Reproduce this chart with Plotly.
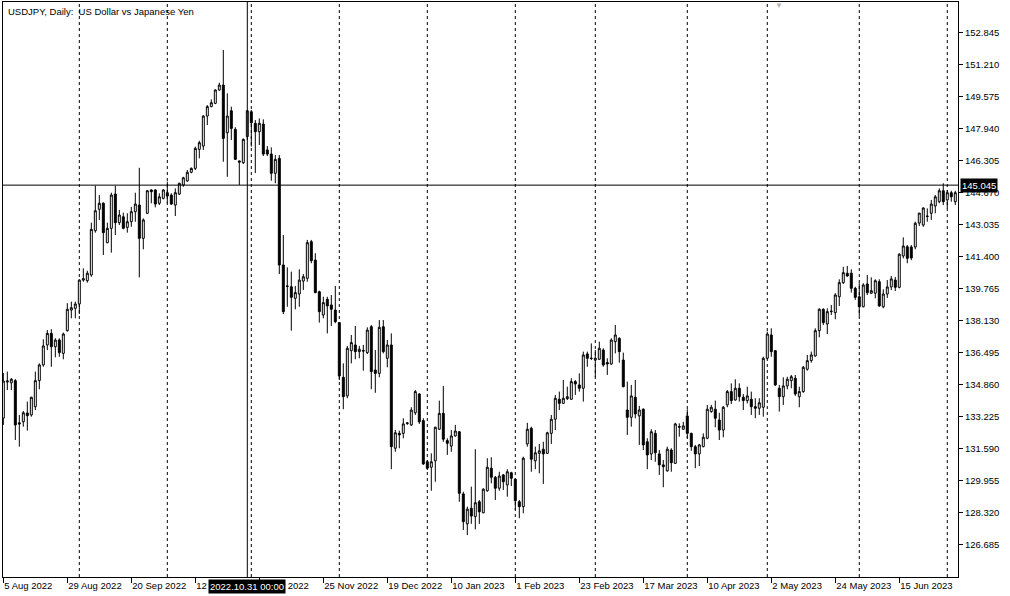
import pandas as pd
import plotly.graph_objects as go

# ---- data ----
dates = [d.strftime("%Y-%m-%d") for d in pd.bdate_range("2022-08-05", "2023-07-05")]

opens = [
    133.16, 135.00, 134.96, 135.07, 132.92, 132.97, 133.42, 133.32, 133.74, 135.07,
    135.87, 136.89, 137.48, 136.80, 137.14, 136.46, 137.62, 138.67, 138.76, 138.98,
    140.20, 140.17, 140.46, 142.72, 143.81, 144.12, 142.11, 142.84, 144.59, 143.13,
    143.43, 142.89, 143.18, 143.69, 144.03, 142.33, 143.61, 144.80, 144.80, 144.12,
    144.37, 144.66, 144.54, 144.03, 144.59, 145.05, 145.26, 145.70, 145.90, 146.87,
    147.04, 148.57, 149.05, 149.22, 149.90, 150.15, 147.72, 148.84, 147.89, 146.28,
    146.19, 147.52, 148.79, 148.20, 147.77, 148.16, 146.84, 146.63, 145.65, 146.41,
    140.97, 139.87, 139.86, 139.27, 139.49, 140.15, 140.29, 142.16, 141.22, 139.61,
    138.42, 139.22, 138.93, 138.67, 138.03, 135.24, 134.29, 136.60, 136.89, 136.55,
    136.61, 136.50, 137.82, 135.61, 135.44, 137.82, 136.21, 136.89, 131.62, 132.38,
    132.38, 132.88, 132.81, 133.43, 134.39, 133.03, 130.93, 130.65, 130.98, 132.59,
    133.40, 132.01, 131.73, 132.25, 132.46, 129.29, 127.76, 128.56, 128.13, 128.89,
    128.33, 129.45, 130.60, 130.14, 129.58, 130.26, 129.75, 130.37, 130.04, 128.89,
    128.64, 131.84, 132.64, 130.98, 131.36, 131.57, 131.36, 132.38, 133.10, 134.12,
    133.91, 134.15, 134.12, 135.02, 134.85, 134.68, 136.43, 136.22, 136.12, 136.16,
    136.63, 135.99, 135.92, 137.06, 137.23, 136.12, 133.57, 133.20, 134.22, 133.27,
    133.61, 131.95, 131.33, 132.38, 131.33, 130.77, 130.47, 131.53, 130.85, 132.73,
    132.59, 133.27, 132.38, 131.70, 131.33, 131.70, 132.13, 133.49, 133.61, 133.06,
    132.55, 133.83, 134.51, 134.08, 134.68, 134.22, 134.05, 134.12, 133.74, 133.66,
    133.71, 136.21, 137.40, 136.60, 134.68, 134.25, 134.80, 135.07, 135.19, 134.25,
    134.51, 135.65, 136.09, 136.33, 137.62, 138.71, 137.96, 138.59, 138.54, 139.35,
    140.07, 140.55, 140.55, 139.78, 139.35, 138.84, 140.00, 139.53, 139.53, 140.12,
    138.84, 139.49, 139.85, 140.20, 139.83, 141.43, 141.90, 141.89, 141.89, 143.11,
    143.01, 143.47, 143.61, 143.98, 144.20, 144.76, 144.29, 144.66, 144.20,
]
highs = [
    135.46, 135.53, 135.20, 135.15, 133.32, 133.52, 134.00, 134.25, 135.53, 135.95,
    137.18, 137.65, 137.69, 137.23, 137.23, 137.52, 139.02, 139.10, 139.10, 140.24,
    140.80, 140.68, 143.13, 145.02, 144.54, 144.17, 143.13, 144.66, 145.02, 143.78,
    143.64, 143.61, 143.94, 144.66, 145.93, 143.35, 144.80, 144.83, 144.83, 144.63,
    144.83, 145.22, 144.63, 144.88, 145.17, 145.47, 145.82, 145.95, 147.01, 147.31,
    148.62, 149.13, 149.42, 149.93, 150.27, 151.94, 149.73, 149.05, 148.00, 146.30,
    147.43, 148.88, 148.88, 148.37, 148.45, 148.40, 147.04, 146.97, 146.58, 146.58,
    142.50, 140.85, 140.63, 139.90, 140.75, 140.51, 142.25, 142.25, 141.57, 139.66,
    139.35, 139.35, 139.44, 139.90, 138.06, 135.95, 136.84, 137.40, 137.86, 136.84,
    136.89, 137.79, 137.91, 136.63, 138.16, 138.16, 137.14, 137.48, 132.55, 132.52,
    133.15, 132.96, 133.71, 134.59, 134.42, 133.15, 131.02, 131.36, 132.72, 134.05,
    134.80, 132.13, 132.55, 132.81, 132.50, 129.40, 128.64, 129.66, 131.57, 128.98,
    129.58, 131.11, 131.16, 130.20, 130.42, 130.31, 130.55, 130.42, 130.05, 128.98,
    131.19, 132.92, 132.72, 131.70, 131.84, 131.95, 132.46, 133.32, 134.34, 134.51,
    135.10, 134.76, 135.19, 135.10, 135.44, 136.55, 136.55, 136.97, 136.63, 137.06,
    136.72, 136.21, 137.23, 137.91, 137.28, 136.50, 135.02, 134.85, 135.10, 133.78,
    133.66, 132.13, 132.59, 132.55, 131.53, 131.02, 131.70, 131.62, 132.92, 132.89,
    132.97, 133.61, 132.41, 131.79, 131.84, 132.38, 133.83, 133.83, 134.05, 133.43,
    133.78, 134.59, 134.93, 135.14, 134.93, 134.39, 134.76, 134.51, 134.17, 134.17,
    136.29, 137.57, 137.74, 136.63, 134.85, 135.24, 135.27, 135.36, 135.36, 134.76,
    135.82, 136.38, 136.55, 137.74, 138.76, 138.76, 138.76, 138.93, 139.53, 140.24,
    140.88, 140.92, 140.75, 139.86, 140.04, 140.04, 140.46, 140.34, 140.24, 140.24,
    139.73, 140.20, 140.41, 140.36, 141.57, 142.38, 141.99, 141.99, 143.18, 143.62,
    143.91, 143.86, 144.29, 144.54, 144.88, 145.14, 144.80, 144.76, 144.76,
]
lows = [
    132.81, 134.59, 134.59, 132.04, 131.70, 132.72, 132.52, 133.23, 133.57, 134.63,
    135.78, 136.63, 135.78, 136.26, 136.29, 136.16, 137.57, 138.25, 138.25, 138.47,
    140.12, 140.07, 140.37, 142.62, 143.27, 141.48, 142.08, 141.60, 142.50, 143.01,
    142.79, 142.62, 142.92, 143.18, 140.34, 141.77, 143.57, 144.12, 143.91, 144.03,
    144.32, 144.12, 144.03, 143.47, 144.54, 144.96, 145.22, 145.65, 145.82, 146.41,
    146.84, 148.11, 149.02, 149.18, 149.86, 146.24, 145.47, 147.35, 146.33, 145.05,
    146.12, 147.35, 147.01, 145.66, 147.09, 146.53, 146.53, 145.27, 145.14, 140.51,
    138.47, 138.84, 137.62, 138.71, 138.84, 139.69, 140.12, 141.06, 139.53, 138.03,
    138.25, 137.48, 137.86, 138.00, 135.10, 133.61, 134.17, 135.95, 136.16, 136.21,
    135.58, 136.43, 134.63, 134.45, 135.24, 136.46, 135.75, 130.55, 131.44, 131.62,
    132.13, 132.81, 132.76, 133.32, 132.86, 130.77, 130.51, 129.45, 129.91, 132.55,
    131.95, 131.28, 131.44, 132.21, 128.89, 127.45, 127.19, 127.76, 127.48, 127.76,
    128.30, 129.40, 129.83, 128.98, 129.45, 129.49, 129.15, 129.69, 128.47, 128.05,
    128.30, 131.70, 130.42, 130.55, 130.34, 129.80, 131.33, 131.84, 132.55, 133.57,
    133.88, 134.08, 134.08, 134.34, 134.51, 134.00, 135.78, 136.12, 135.24, 136.12,
    135.78, 135.36, 135.87, 136.46, 135.99, 134.73, 132.30, 132.72, 133.15, 131.79,
    131.53, 130.55, 131.02, 130.93, 130.26, 129.63, 130.42, 130.42, 130.82, 132.21,
    132.55, 132.13, 131.49, 130.60, 130.71, 131.67, 132.08, 133.43, 132.69, 132.04,
    132.18, 133.71, 133.88, 134.05, 134.00, 133.57, 133.91, 133.32, 133.15, 133.32,
    133.23, 136.16, 136.29, 134.80, 133.49, 133.83, 134.63, 134.68, 134.29, 133.71,
    134.45, 135.58, 135.99, 136.29, 137.28, 137.91, 137.45, 138.42, 138.20, 138.88,
    140.00, 140.37, 139.56, 139.19, 138.37, 138.81, 139.44, 139.49, 139.27, 138.84,
    138.76, 139.29, 139.69, 139.64, 139.78, 141.31, 141.06, 141.22, 141.77, 142.96,
    142.92, 143.18, 143.27, 143.61, 144.12, 144.03, 143.86, 144.20, 144.03,
]
closes = [
    135.05, 135.05, 135.14, 132.81, 132.86, 133.43, 133.28, 134.22, 135.07, 135.87,
    136.84, 137.48, 136.80, 137.14, 136.50, 137.45, 138.71, 138.79, 138.98, 140.20,
    140.27, 140.55, 142.79, 143.74, 144.12, 142.62, 142.84, 144.54, 143.13, 143.52,
    142.84, 143.18, 143.69, 144.08, 142.33, 143.27, 144.76, 144.71, 144.08, 144.45,
    144.80, 144.49, 144.08, 144.66, 145.14, 145.42, 145.70, 145.90, 146.92, 147.21,
    148.57, 149.05, 149.25, 149.90, 150.15, 147.43, 148.57, 147.94, 146.36, 146.22,
    147.38, 148.84, 148.23, 147.77, 148.20, 146.63, 146.63, 145.65, 146.36, 140.97,
    138.59, 139.90, 139.32, 139.56, 140.20, 140.37, 142.11, 141.19, 139.56, 138.59,
    139.05, 138.88, 138.71, 138.08, 135.31, 134.25, 136.72, 137.01, 136.55, 136.67,
    136.58, 137.65, 135.53, 135.44, 137.79, 136.55, 136.89, 131.70, 132.41, 132.30,
    132.86, 132.91, 133.57, 134.51, 132.97, 130.82, 130.60, 130.93, 132.69, 133.40,
    132.08, 131.87, 132.25, 132.50, 129.32, 127.87, 128.51, 128.16, 128.84, 128.38,
    129.53, 130.65, 130.14, 129.58, 130.20, 129.91, 130.42, 130.09, 128.94, 128.64,
    131.11, 132.59, 131.06, 131.39, 131.49, 131.33, 132.41, 133.10, 134.17, 133.91,
    134.17, 134.25, 135.02, 134.90, 134.68, 136.38, 136.21, 136.20, 136.21, 136.72,
    135.87, 135.92, 137.14, 137.40, 136.55, 134.76, 133.20, 134.29, 133.37, 133.57,
    131.79, 131.28, 132.46, 131.39, 130.77, 130.68, 131.57, 130.88, 132.86, 132.70,
    132.76, 132.38, 131.70, 131.33, 131.79, 132.18, 133.61, 133.71, 133.15, 132.55,
    133.71, 134.51, 134.05, 134.68, 134.25, 134.05, 134.29, 133.74, 133.66, 133.94,
    136.21, 137.45, 136.55, 134.85, 134.25, 134.80, 135.14, 135.27, 134.39, 134.51,
    135.75, 136.09, 136.38, 137.62, 138.71, 138.03, 138.59, 138.61, 139.44, 140.07,
    140.58, 140.41, 139.78, 139.32, 138.84, 139.95, 139.56, 139.66, 140.17, 138.88,
    139.49, 139.85, 140.26, 139.83, 141.52, 141.94, 141.31, 141.33, 143.10, 143.62,
    143.88, 143.45, 144.08, 144.45, 144.76, 144.20, 144.66, 144.45, 144.66,
]

price_ticks = [126.685, 128.320, 129.955, 131.590, 133.225, 134.860, 136.495, 138.130,
               139.765, 141.400, 143.035, 144.670, 146.305, 147.940, 149.575, 151.210, 152.845]
date_tick_idx = [0, 16, 32, 48, 64, 80, 96, 112, 128, 144, 160, 176, 192, 208, 224]
date_tick_text = ["5 Aug 2022", "29 Aug 2022", "20 Sep 2022", "12 Oct 2022", "3 Nov 2022",
                  "25 Nov 2022", "19 Dec 2022", "10 Jan 2023", "1 Feb 2023", "23 Feb 2023",
                  "17 Mar 2023", "10 Apr 2023", "2 May 2023", "24 May 2023", "15 Jun 2023"]
cross_date = "2022-10-31"
cross_price = 145.045
title_text = "USDJPY, Daily:  US Dollar vs Japanese Yen"

FONT = "Liberation Sans"

fig = go.Figure()
fig.add_trace(go.Candlestick(
    x=dates, open=opens, high=highs, low=lows, close=closes,
    increasing=dict(line=dict(color="black", width=1), fillcolor="white"),
    decreasing=dict(line=dict(color="black", width=1), fillcolor="black"),
    whiskerwidth=0, hoverinfo="skip", showlegend=False,
))

# month separators (first bar of each month)
shapes = []
for k in range(1, len(dates)):
    if dates[k][5:7] != dates[k - 1][5:7]:
        shapes.append(dict(type="line", xref="x", yref="paper", x0=dates[k], x1=dates[k],
                           y0=0, y1=1, line=dict(color="black", width=1, dash="3px,3px"),
                           layer="below"))
# crosshair
shapes.append(dict(type="line", xref="x", yref="paper", x0=cross_date, x1=cross_date,
                   y0=0, y1=1, line=dict(color="black", width=1)))
shapes.append(dict(type="line", xref="paper", yref="y", x0=0, x1=1,
                   y0=cross_price, y1=cross_price, line=dict(color="black", width=1)))

annotations = [
    dict(text=title_text, xref="paper", yref="paper", x=0, y=1, xanchor="left", yanchor="top",
         xshift=3, yshift=-2, showarrow=False, font=dict(family=FONT, size=9.5, color="black")),
    dict(text=f"{cross_price:.3f}", xref="paper", yref="y", x=1, y=cross_price,
         xanchor="left", yanchor="middle", xshift=2, showarrow=False, bgcolor="black",
         borderpad=1, font=dict(family=FONT, size=9.5, color="white")),
    dict(text=cross_date.replace("-", ".") + " 00:00", xref="x", yref="paper", x=cross_date, y=0,
         xanchor="center", yanchor="top", yshift=-2, showarrow=False, bgcolor="black",
         borderpad=1, font=dict(family=FONT, size=9.5, color="white")),
    dict(text="▼", xref="x", yref="paper", x=dates[194], y=1, xanchor="center", yanchor="top",
         yshift=3, showarrow=False, font=dict(family=FONT, size=8, color="#b4b4b4")),
]

fig.update_layout(
    width=1010, height=596,
    margin=dict(l=3, r=52, t=2, b=19, autoexpand=False),
    paper_bgcolor="white", plot_bgcolor="white",
    shapes=shapes, annotations=annotations,
    font=dict(family=FONT, size=9.5, color="black"),
    hovermode=False,
)
fig.update_xaxes(
    type="category", range=[-0.08, 238.68], rangeslider_visible=False, automargin=False,
    tickmode="array", tickvals=[dates[i] for i in date_tick_idx], ticktext=date_tick_text,
    ticks="outside", ticklen=5, tickcolor="black", tickwidth=1,
    ticklabelposition="outside right",
    showgrid=False, zeroline=False, showline=True, linecolor="black", linewidth=1, mirror=True,
    tickfont=dict(family=FONT, size=9.5, color="black"),
)
fig.update_yaxes(
    side="right", range=[125.05, 154.39], automargin=False,
    tickmode="array", tickvals=price_ticks, ticktext=[f"{v:.3f}" for v in price_ticks],
    ticks="outside", ticklen=4, tickcolor="black", tickwidth=1,
    showgrid=False, zeroline=False, showline=True, linecolor="black", linewidth=1, mirror=True,
    tickfont=dict(family=FONT, size=9.5, color="black"),
)

fig.write_html("out.html", config={"displayModeBar": False},
               post_script="document.body.style.margin='0';document.body.style.overflow='hidden';")
